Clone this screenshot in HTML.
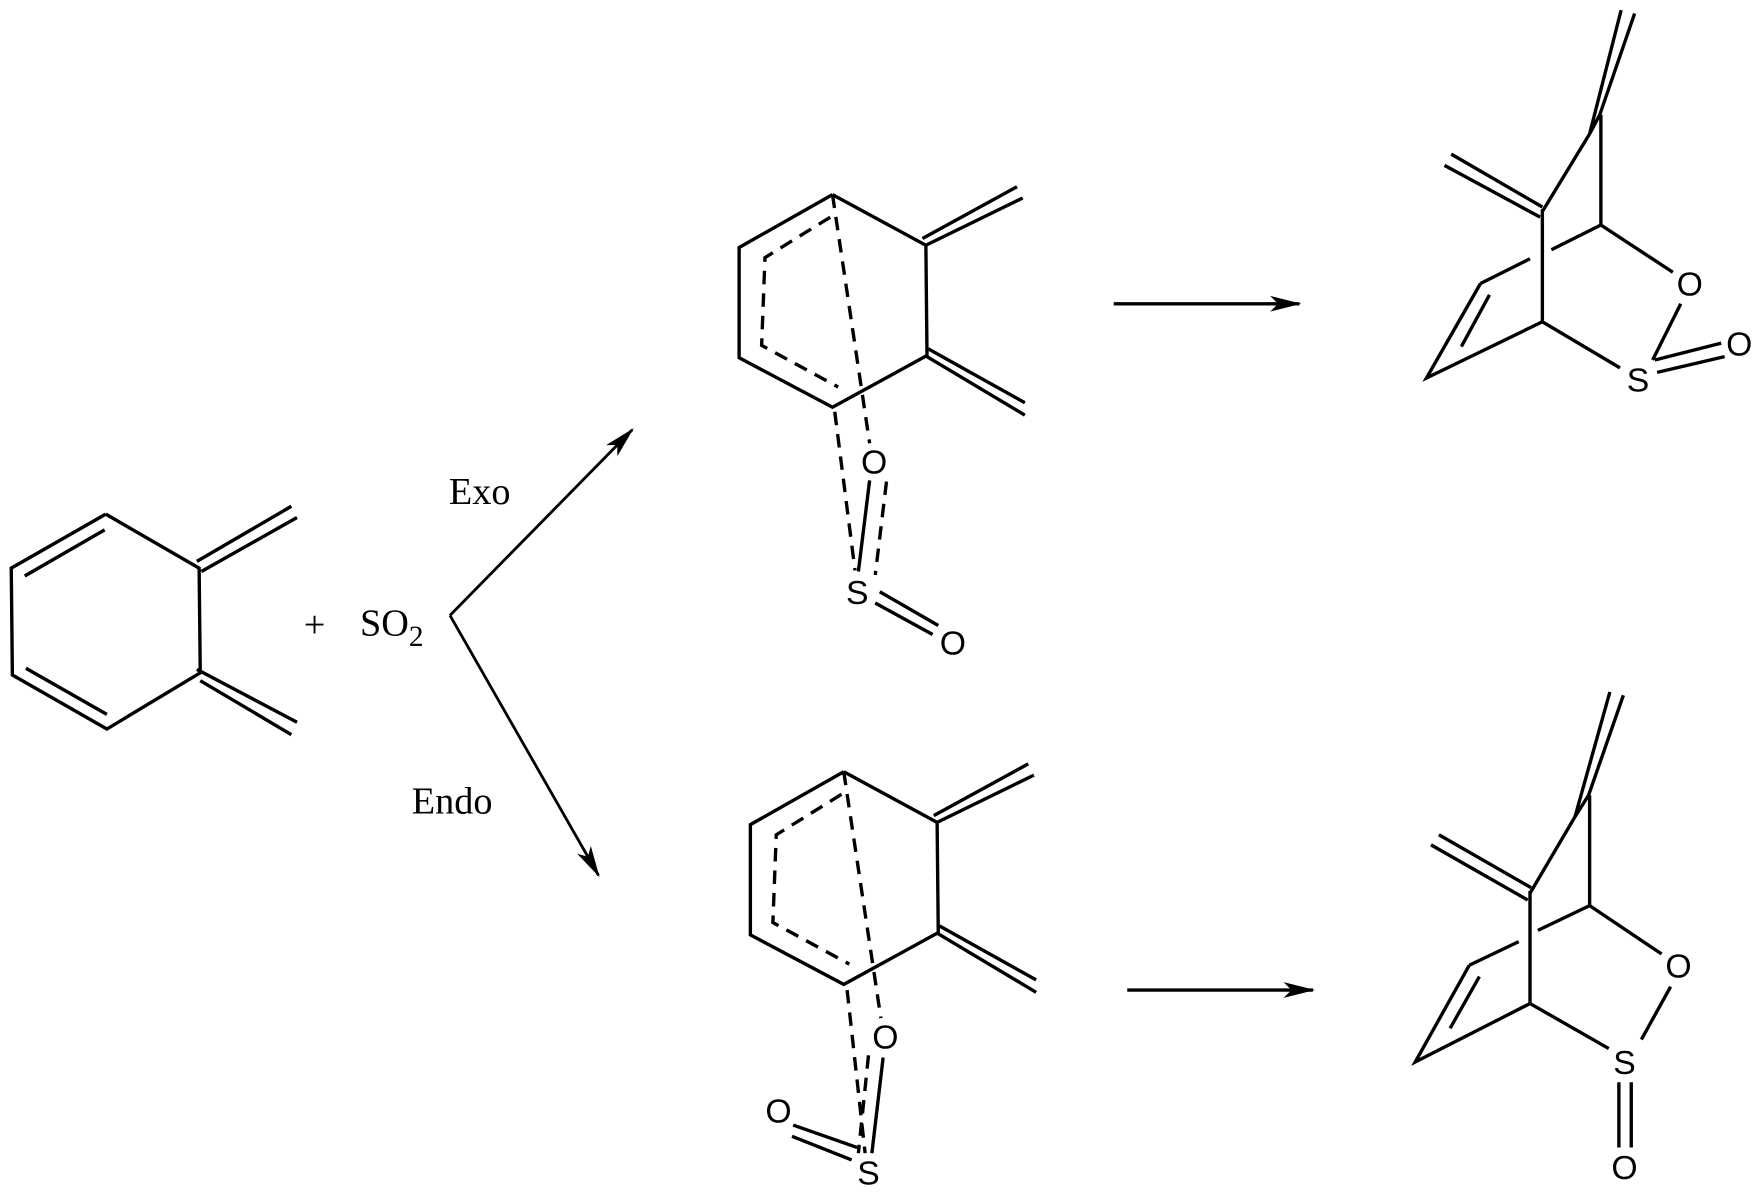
<!DOCTYPE html>
<html><head><meta charset="utf-8"><style>
html,body{margin:0;padding:0;background:#fff;}
svg{display:block;}
.s{font-family:"Liberation Sans",sans-serif;font-size:30px;text-anchor:middle;dominant-baseline:central;}
.t{font-family:"Liberation Serif",serif;font-size:34px;}
</style></head><body>
<svg width="1764" height="1194" viewBox="0 0 1568 1061.3" preserveAspectRatio="none" xmlns="http://www.w3.org/2000/svg">
<defs>
<marker id="ah" viewBox="0 0 28 14" refX="26" refY="7" markerWidth="28" markerHeight="14" markerUnits="userSpaceOnUse" orient="auto">
<path d="M0,0 L28,7 L0,14 L7,7 Z" fill="#000"/>
</marker>
</defs>
<g stroke="#000" stroke-width="3" fill="none" stroke-linecap="butt" stroke-linejoin="miter">
<polyline points="94,457 177,505 178,598 95,648 11,600 10,505 94,457"/>
<line x1="22" y1="512" x2="93" y2="471"/>
<line x1="23" y1="594" x2="95" y2="635"/>
<line x1="175" y1="499" x2="259" y2="450"/>
<line x1="179" y1="508" x2="264" y2="460"/>
<line x1="175" y1="595" x2="264" y2="642"/>
<line x1="178" y1="605" x2="259" y2="653"/>
<line x1="400" y1="547" x2="562" y2="382" stroke-width="2.5" marker-end="url(#ah)"/>
<line x1="400" y1="547" x2="532" y2="778" stroke-width="2.5" marker-end="url(#ah)"/>
<line x1="990" y1="270" x2="1155" y2="270" marker-end="url(#ah)"/>
<line x1="1002" y1="880" x2="1167" y2="880" marker-end="url(#ah)"/>

<polyline points="740,173 823,218 824,316 740,362 657,318 657,220 740,173"/>
<line x1="823" y1="218" x2="909" y2="176"/>
<line x1="820" y1="212" x2="904" y2="166"/>
<line x1="824" y1="317" x2="911" y2="369"/>
<line x1="825" y1="310" x2="911" y2="358"/>
<g stroke-dasharray="12,8">
<polyline points="738,193 680,229 677,307 745,344"/>
<line x1="740" y1="173" x2="773" y2="394"/>
<line x1="742" y1="366" x2="760" y2="507"/>
<line x1="788" y1="428" x2="778" y2="511"/>
</g>
<line x1="773" y1="427" x2="763" y2="508"/>
<line x1="782" y1="526" x2="834" y2="556"/>
<line x1="778" y1="536" x2="829" y2="564"/>

<polyline points="750,686 833,731 834,829 750,875 667,831 667,733 750,686"/>
<line x1="833" y1="731" x2="919" y2="689"/>
<line x1="830" y1="725" x2="914" y2="679"/>
<line x1="834" y1="830" x2="921" y2="882"/>
<line x1="835" y1="823" x2="921" y2="871"/>
<g stroke-dasharray="12,8">
<polyline points="748,706 690,742 687,820 755,857"/>
<line x1="750" y1="686" x2="783" y2="905"/>
<line x1="753" y1="880" x2="769" y2="1025"/>
<line x1="772" y1="938" x2="763" y2="1025"/>
</g>
<line x1="785" y1="940" x2="775" y2="1025"/>
<line x1="705" y1="1000" x2="762" y2="1020"/>
<line x1="704" y1="1010" x2="757" y2="1031"/>

<line x1="1441" y1="9" x2="1413" y2="119"/>
<line x1="1453" y1="12" x2="1422" y2="102"/>
<line x1="1413" y1="119" x2="1422" y2="102"/>
<line x1="1423" y1="102" x2="1423" y2="200"/>
<line x1="1413" y1="119" x2="1371" y2="188"/>
<line x1="1290" y1="137" x2="1371" y2="184"/>
<line x1="1284" y1="147" x2="1369" y2="193"/>
<line x1="1371" y1="186" x2="1371" y2="287"/>
<line x1="1423" y1="200" x2="1487" y2="242"/>
<line x1="1423" y1="200" x2="1379" y2="222"/>
<line x1="1360" y1="230" x2="1316" y2="252"/>
<polyline points="1316,252 1268,336 1371,286 1440,327"/>
<line x1="1324" y1="262" x2="1299" y2="308"/>
<line x1="1494" y1="270" x2="1469" y2="320"/>
<line x1="1471" y1="320" x2="1530" y2="305"/>
<line x1="1473" y1="331" x2="1533" y2="317"/>

<line x1="1431" y1="615" x2="1400" y2="726"/>
<line x1="1443" y1="618" x2="1412" y2="707"/>
<line x1="1400" y1="726" x2="1412" y2="707"/>
<line x1="1413" y1="707" x2="1413" y2="805"/>
<line x1="1400" y1="726" x2="1360" y2="794"/>
<line x1="1279" y1="742" x2="1361" y2="789"/>
<line x1="1272" y1="751" x2="1358" y2="800"/>
<line x1="1360" y1="792" x2="1360" y2="893"/>
<line x1="1413" y1="805" x2="1477" y2="848"/>
<line x1="1413" y1="805" x2="1367" y2="827"/>
<line x1="1350" y1="837" x2="1306" y2="858"/>
<polyline points="1306,858 1258,944 1360,892 1430,932"/>
<line x1="1315" y1="868" x2="1289" y2="914"/>
<line x1="1485" y1="877" x2="1459" y2="924"/>
<line x1="1439" y1="962" x2="1439" y2="1020"/>
<line x1="1450" y1="962" x2="1450" y2="1020"/>
</g>

<text class="s" x="777" y="411">O</text>
<text class="s" x="762" y="527">S</text>
<text class="s" x="847" y="572">O</text>
<text class="s" x="787" y="922">O</text>
<text class="s" x="772" y="1043">S</text>
<text class="s" x="692" y="988">O</text>
<text class="s" x="1502" y="253">O</text>
<text class="s" x="1456" y="338">S</text>
<text class="s" x="1546" y="306">O</text>
<text class="s" x="1492" y="859">O</text>
<text class="s" x="1444" y="945">S</text>
<text class="s" x="1444" y="1038">O</text>

<text class="t" x="399" y="448">Exo</text>
<text class="t" x="366" y="723">Endo</text>
<text class="t" x="270" y="566">+</text>
<text class="t" x="320" y="565">SO<tspan font-size="26" dy="9">2</tspan></text>
</svg>
</body></html>
